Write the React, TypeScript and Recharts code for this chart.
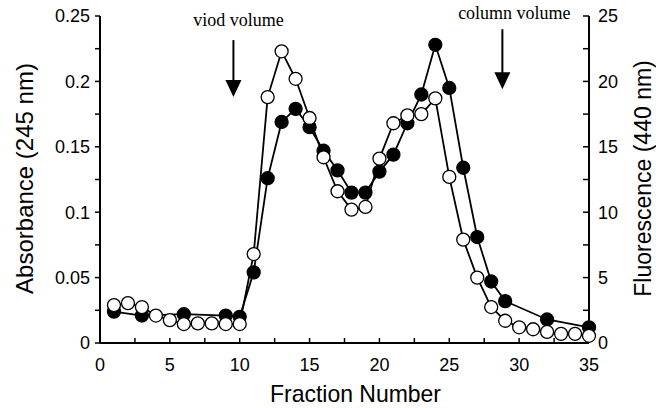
import React from "react";
import {
  ComposedChart,
  Line,
  XAxis,
  YAxis,
  ReferenceDot,
} from "recharts";

// fractions and readings
const absFractions = [1, 3, 6, 9, 10, 11, 12, 13, 14, 15, 16, 17, 18, 19, 20, 21, 22, 23, 24, 25, 26, 27, 28, 29, 32, 35];
const absorbance = [0.024, 0.021, 0.022, 0.021, 0.02, 0.054, 0.126, 0.169, 0.179, 0.165, 0.147, 0.132, 0.115, 0.115, 0.131, 0.144, 0.168, 0.19, 0.228, 0.195, 0.134, 0.081, 0.047, 0.032, 0.018, 0.012];

const flFractions = [1, 2, 3, 4, 5, 6, 7, 8, 9, 10, 11, 12, 13, 14, 15, 16, 17, 18, 19, 20, 21, 22, 23, 24, 25, 26, 27, 28, 29, 30, 31, 32, 33, 34, 35];
const fluorescence = [2.9, 3.05, 2.75, 2.1, 1.75, 1.45, 1.5, 1.5, 1.45, 1.45, 6.8, 18.8, 22.3, 20.2, 17.2, 14.2, 11.6, 10.2, 10.4, 14.1, 16.8, 17.4, 17.5, 18.7, 12.7, 7.9, 5.0, 2.75, 1.7, 1.2, 1.05, 0.85, 0.7, 0.7, 0.55];

const xTicks = [0, 2.5, 5, 7.5, 10, 12.5, 15, 17.5, 20, 22.5, 25, 27.5, 30, 32.5, 35];
const leftTicks = [0, 0.025, 0.05, 0.075, 0.1, 0.125, 0.15, 0.175, 0.2, 0.225, 0.25];
const rightTicks = [0, 2.5, 5, 7.5, 10, 12.5, 15, 17.5, 20, 22.5, 25];

// arrows marking the volumes: fraction, absorbance value at arrow tip
const notes = [
  { text: "viod volume", x: 9.55, tip: 0.188, dx: 5, lineLen: 57, textUp: 71 },
  { text: "column volume", x: 28.8, tip: 0.194, dx: 12, lineLen: 60, textUp: 70 },
];

const absData = absFractions.map((x, i) => ({ x, v: absorbance[i] }));
const flData = flFractions.map((x, i) => ({ x, v: fluorescence[i] }));

const SANS = "'Liberation Sans', Arial, sans-serif";
const SERIF = "'Liberation Serif', 'Times New Roman', serif";

const tickStyle = { fill: "#000", fontSize: 18, fontFamily: SANS };

const XTitle = (props: any) => {
  const { x, y, width } = props.viewBox;
  return (
    <text
      x={x + width / 2 + 11}
      y={y + 59}
      textAnchor="middle"
      fontSize={24}
      fontFamily={SANS}
      fill="#000"
      textLength={171}
      lengthAdjust="spacingAndGlyphs"
    >
      Fraction Number
    </text>
  );
};

const YTitle = (props: any) => {
  const { x, y, height } = props.viewBox;
  const bx = props.side === "left" ? x + 33 : x + 62;
  const cy = y + height / 2 - 1;
  return (
    <text
      x={bx}
      y={cy}
      transform={`rotate(-90 ${bx} ${cy})`}
      textAnchor="middle"
      fontSize={props.side === "left" ? 24 : 23}
      fontFamily={SANS}
      fill="#000"
    >
      {props.text}
    </text>
  );
};

const Arrow = (note: any) => (props: any) => {
  const { cx, cy } = props;
  return (
    <g>
      <line x1={cx} y1={cy - note.lineLen} x2={cx} y2={cy - 15} stroke="#000" strokeWidth={2} />
      <polygon points={`${cx - 8},${cy - 17} ${cx + 8},${cy - 17} ${cx},${cy}`} fill="#000" />
      <text
        x={cx + note.dx}
        y={cy - note.textUp}
        textAnchor="middle"
        fontSize={18}
        fontFamily={SERIF}
        fill="#000"
      >
        {note.text}
      </text>
    </g>
  );
};

export default function App() {
  return (
    <div style={{ position: "absolute", left: 0, top: 0, width: 656, height: 408, background: "#fff" }}>
      <ComposedChart width={656} height={408} margin={{ top: 16, right: 0, bottom: 0, left: 0 }}>
        <XAxis
          dataKey="x"
          type="number"
          domain={[0, 35]}
          ticks={xTicks}
          interval={0}
          allowDuplicatedCategory={false}
          height={65}
          tickSize={-5}
          tickMargin={20}
          tick={tickStyle}
          tickFormatter={(v: number) => (v % 5 === 0 ? String(v) : "")}
          axisLine={{ stroke: "#000", strokeWidth: 2 }}
          tickLine={{ stroke: "#000", strokeWidth: 1.5 }}
          label={<XTitle />}
        />
        <YAxis
          yAxisId="abs"
          orientation="left"
          type="number"
          domain={[0, 0.25]}
          ticks={leftTicks}
          interval={0}
          width={100}
          tickSize={5}
          tickMargin={5}
          tick={tickStyle}
          tickFormatter={(v: number) => (Math.round(v * 1000) % 50 === 0 ? String(v) : "")}
          axisLine={{ stroke: "#000", strokeWidth: 2 }}
          tickLine={{ stroke: "#000", strokeWidth: 1.5 }}
          label={<YTitle side="left" text="Absorbance (245 nm)" />}
        />
        <YAxis
          yAxisId="fl"
          orientation="right"
          type="number"
          domain={[0, 25]}
          ticks={rightTicks}
          interval={0}
          width={67}
          tickSize={-6}
          tickMargin={15}
          tick={tickStyle}
          tickFormatter={(v: number) => (v % 5 === 0 ? String(v) : "")}
          axisLine={{ stroke: "#000", strokeWidth: 2 }}
          tickLine={{ stroke: "#000", strokeWidth: 1.5 }}
          label={<YTitle side="right" text="Fluorescence (440 nm)" />}
        />
        <Line
          yAxisId="abs"
          data={absData}
          dataKey="v"
          stroke="#000"
          strokeWidth={1.8}
          dot={{ r: 6.5, fill: "#000", stroke: "#000", strokeWidth: 1.3 }}
          isAnimationActive={false}
        />
        <Line
          yAxisId="fl"
          data={flData}
          dataKey="v"
          stroke="#000"
          strokeWidth={1.8}
          dot={{ r: 6.5, fill: "#fff", stroke: "#000", strokeWidth: 1.3 }}
          isAnimationActive={false}
        />
        {notes.map((n) => (
          <ReferenceDot
            key={n.text}
            yAxisId="abs"
            x={n.x}
            y={n.tip}
            r={1}
            ifOverflow="visible"
            shape={Arrow(n)}
          />
        ))}
      </ComposedChart>
    </div>
  );
}
